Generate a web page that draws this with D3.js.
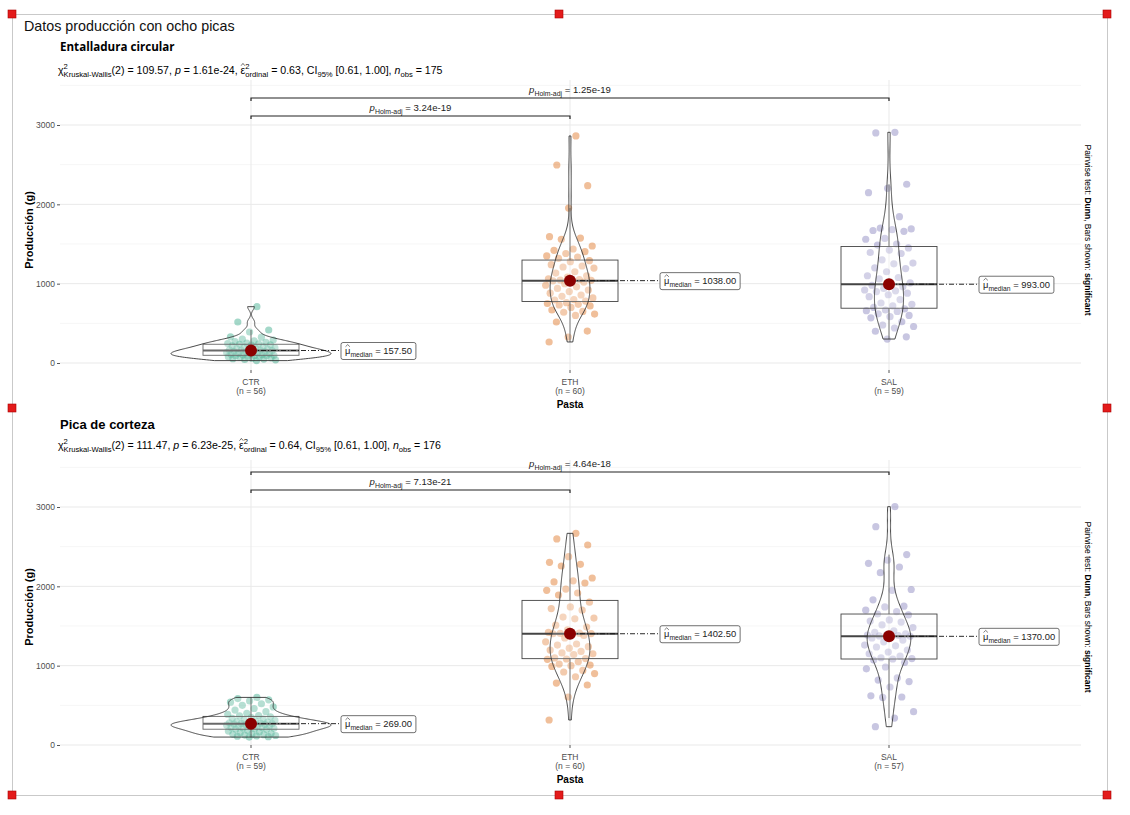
<!DOCTYPE html>
<html>
<head>
<meta charset="utf-8">
<script src="https://cdn.jsdelivr.net/npm/d3@7"></script>
<style>
  body { margin: 0; background: #fff; }
  svg { display: block; font-family: "Liberation Sans", Arial, sans-serif; }
  text { white-space: pre; }
</style>
</head>
<body>
<svg id="chart" width="1130" height="815"></svg>
<script>
// ---- data ----
const groups = ['CTR', 'ETH', 'SAL'];
const groupColors = ['#1B9E77', '#D95F02', '#7570B3'];
const yTicks = [0, 1000, 2000, 3000];

// Entalladura circular
const ctrEntalladura = [710, 517, 416, 391, 330, 325, 300, 290, 280, 270,
  260, 250, 245, 240, 235, 230, 225, 215, 205, 200,
  190, 185, 180, 175, 170, 165, 160, 158, 157, 150,
  145, 140, 135, 130, 125, 120, 118, 115, 110, 105,
  100, 98, 95, 92, 90, 85, 80, 75, 70, 65,
  60, 55, 50, 45, 40, 30];
const ethEntalladura = [2862, 2496, 2235, 1953, 1592, 1575, 1560, 1475, 1437, 1420,
  1403, 1380, 1350, 1336, 1320, 1290, 1277, 1240, 1223, 1210,
  1197, 1150, 1134, 1100, 1084, 1060, 1050, 1046, 1042, 1040,
  1036, 1020, 1000, 980, 960, 940, 920, 900, 880, 857,
  840, 820, 800, 794, 780, 760, 750, 740, 731, 720,
  700, 668, 650, 640, 617, 600, 517, 403, 328, 265];
const salEntalladura = [2908, 2900, 2253, 2202, 2147, 1844, 1700, 1690, 1680, 1670,
  1660, 1570, 1560, 1500, 1487, 1450, 1424, 1393, 1380, 1300,
  1260, 1250, 1200, 1190, 1150, 1100, 1078, 1060, 1010, 993,
  980, 960, 940, 920, 910, 900, 880, 860, 836, 800,
  756, 740, 720, 700, 681, 668, 660, 650, 620, 600,
  584, 570, 520, 479, 460, 441, 400, 330, 302];
const mediansEntalladura = [157.50, 1038.00, 993.00];
const nEntalladura = [56, 60, 59];
const statsEntalladura = { chi2: '109.57', p: '1.61e-24', eps: '0.63', ci: '[0.61, 1.00]', nobs: '175' };
const pairsEntalladura = [
  { from: 'CTR', to: 'ETH', p: '3.24e-19' },
  { from: 'CTR', to: 'SAL', p: '1.25e-19' }
];

// Pica de corteza
const ctrCorteza = [600, 585, 570, 555, 540, 520, 500, 480, 460, 440,
  420, 400, 385, 372, 366, 355, 345, 335, 325, 318,
  310, 302, 295, 288, 282, 278, 275, 272, 270, 269,
  265, 260, 255, 250, 245, 240, 235, 230, 225, 220,
  215, 210, 205, 200, 198, 185, 175, 165, 155, 145,
  140, 135, 130, 125, 120, 115, 110, 105, 100];
const ethCorteza = [2668, 2597, 2521, 2374, 2303, 2278, 2256, 2105, 2070, 2055,
  2042, 1966, 1950, 1916, 1891, 1800, 1740, 1720, 1700, 1613,
  1600, 1590, 1510, 1487, 1450, 1420, 1410, 1406, 1404, 1403,
  1402, 1380, 1350, 1300, 1273, 1260, 1240, 1220, 1197, 1180,
  1160, 1150, 1140, 1097, 1090, 1084, 1080, 1050, 1020, 1008,
  1000, 990, 940, 920, 900, 860, 780, 756, 605, 315];
const salCorteza = [3004, 2752, 2400, 2330, 2290, 2244, 2172, 1960, 1950, 1830,
  1750, 1740, 1700, 1680, 1651, 1639, 1576, 1563, 1550, 1513,
  1480, 1440, 1420, 1400, 1390, 1385, 1380, 1375, 1370,
  1365, 1350, 1323, 1300, 1260, 1250, 1235, 1197, 1172, 1150, 1120,
  1100, 1090, 1084, 1070, 1040, 983, 960, 845, 819, 800,
  731, 620, 605, 600, 420, 340, 231];
const mediansCorteza = [269.00, 1402.50, 1370.00];
const nCorteza = [59, 60, 57];
const statsCorteza = { chi2: '111.47', p: '6.23e-25', eps: '0.64', ci: '[0.61, 1.00]', nobs: '176' };
const pairsCorteza = [
  { from: 'CTR', to: 'ETH', p: '7.13e-21' },
  { from: 'CTR', to: 'SAL', p: '4.64e-18' }
];

// ---- layout ----
const panels = [
  { title: 'Entalladura circular', titleFont: '"Open Sans", sans-serif', titleSize: 11.6,
    series: [ctrEntalladura, ethEntalladura, salEntalladura],
    medians: mediansEntalladura, n: nEntalladura, stats: statsEntalladura, pairs: pairsEntalladura,
    titleY: 51, statsY: 74, zeroY: 363, topTickY: 125, panelTop: 80, panelBottom: 370,
    bracketY: [116, 98], stripY: 230 },
  { title: 'Pica de corteza', titleFont: '"Liberation Sans", Arial, sans-serif', titleSize: 13,
    series: [ctrCorteza, ethCorteza, salCorteza],
    medians: mediansCorteza, n: nCorteza, stats: statsCorteza, pairs: pairsCorteza,
    titleY: 429, statsY: 449, zeroY: 745, topTickY: 507, panelTop: 460, panelBottom: 745,
    bracketY: [490, 472], stripY: 607 }
];

const svg = d3.select('#chart');
const plotLeft = 60, plotRight = 1081;

const x = d3.scalePoint().domain(groups).range([251, 889]);

// lay out a run of text pieces (normal / italic / bold / hat / sub+sup) and return its width
function richText(parent, segs, size, weight) {
  const g = parent.append('g');
  let cx = 0;
  segs.forEach(s => {
    if (s.t !== undefined) {
      const t = g.append('text').attr('x', cx).attr('font-size', size)
        .attr('font-style', s.i ? 'italic' : null)
        .attr('font-weight', s.b ? 'bold' : weight || null)
        .text(s.t);
      const tw = t.node().getComputedTextLength();
      if (s.hat) {
        const hy = -size * 0.78;
        g.append('path')
          .attr('d', `M${cx + tw * 0.1},${hy}L${cx + tw * 0.5},${hy - size * 0.22}L${cx + tw * 0.9},${hy}`)
          .attr('fill', 'none').attr('stroke', 'currentColor').attr('stroke-width', 0.6);
      }
      cx += tw;
    } else {
      let w = 0;
      if (s.sup) {
        const t = g.append('text').attr('x', cx).attr('y', -size * 0.45)
          .attr('font-size', size * 0.72).text(s.sup);
        w = Math.max(w, t.node().getComputedTextLength());
      }
      if (s.sub) {
        const t = g.append('text').attr('x', cx).attr('y', size * 0.32)
          .attr('font-size', size * 0.72).text(s.sub);
        w = Math.max(w, t.node().getComputedTextLength());
      }
      cx += w;
    }
  });
  return { g, width: cx };
}

// gaussian KDE, bw.nrd0, trimmed to the data range
function density(values) {
  const v = values.slice().sort(d3.ascending);
  const n = v.length;
  const iqr = d3.quantileSorted(v, 0.75) - d3.quantileSorted(v, 0.25);
  const bw = 0.9 * Math.min(d3.deviation(v), iqr / 1.34) * Math.pow(n, -0.2);
  const lo = v[0], hi = v[n - 1];
  return d3.range(200).map(k => {
    const y = lo + (hi - lo) * k / 199;
    const d = d3.sum(v, vi => Math.exp(-0.5 * ((y - vi) / bw) ** 2)) / (n * bw * Math.sqrt(2 * Math.PI));
    return [y, d];
  });
}

// frame round the picture
svg.append('rect').attr('x', 12.5).attr('y', 14.5).attr('width', 1095).attr('height', 781)
  .attr('fill', 'none').attr('stroke', '#c9c9c9').attr('stroke-width', 1);

svg.append('text').attr('x', 24).attr('y', 31).attr('font-size', 14.3).attr('fill', '#111')
  .text('Datos producción con ocho picas');

panels.forEach(p => {
  const y = d3.scaleLinear().domain([0, 3000]).range([p.zeroY, p.topTickY]);
  const g = svg.append('g');

  // grid
  const minor = d3.range(500, 4000, 1000).filter(v => y(v) >= p.panelTop);
  g.selectAll('.minor').data(minor).enter().append('line')
    .attr('x1', plotLeft).attr('x2', plotRight).attr('y1', d => y(d)).attr('y2', d => y(d))
    .attr('stroke', '#f2f2f2').attr('stroke-width', 0.7);
  g.selectAll('.major').data(yTicks).enter().append('line')
    .attr('x1', plotLeft).attr('x2', plotRight).attr('y1', d => y(d)).attr('y2', d => y(d))
    .attr('stroke', '#e9e9e9').attr('stroke-width', 1);
  g.selectAll('.vgrid').data(groups).enter().append('line')
    .attr('x1', d => x(d)).attr('x2', d => x(d)).attr('y1', p.panelTop).attr('y2', p.panelBottom)
    .attr('stroke', '#e9e9e9').attr('stroke-width', 1);

  // y axis
  const yAxis = g.append('g').attr('transform', `translate(${plotLeft},0)`)
    .call(d3.axisLeft(y).tickValues(yTicks).tickFormat(d3.format('d')).tickSize(3).tickPadding(2));
  yAxis.select('.domain').remove();
  yAxis.selectAll('line').attr('stroke', '#555');
  yAxis.selectAll('text').attr('font-size', 8.5).attr('fill', '#4d4d4d')
    .attr('font-family', '"Liberation Sans", Arial, sans-serif');

  g.append('text').attr('transform', `translate(33,${p.stripY}) rotate(-90)`)
    .attr('text-anchor', 'middle').attr('font-size', 11).attr('font-weight', 'bold')
    .text('Producción (g)');

  // x axis
  groups.forEach((grp, i) => {
    g.append('line').attr('x1', x(grp)).attr('x2', x(grp))
      .attr('y1', p.panelBottom).attr('y2', p.panelBottom + 3).attr('stroke', '#555');
    g.append('text').attr('x', x(grp)).attr('y', p.panelBottom + 14.5).attr('text-anchor', 'middle')
      .attr('font-size', 8.5).attr('fill', '#4d4d4d').text(grp);
    g.append('text').attr('x', x(grp)).attr('y', p.panelBottom + 24).attr('text-anchor', 'middle')
      .attr('font-size', 8.5).attr('fill', '#4d4d4d').text(`(n = ${p.n[i]})`);
  });
  g.append('text').attr('x', 570).attr('y', p.panelBottom + 37.5).attr('text-anchor', 'middle')
    .attr('font-size', 10).attr('font-weight', 'bold').text('Pasta');

  // titles
  g.append('text').attr('x', 60).attr('y', p.titleY).attr('font-size', p.titleSize)
    .attr('font-weight', 'bold').attr('font-family', p.titleFont).text(p.title);
  const st = p.stats;
  const statLine = richText(g, [
    { t: 'χ' }, { sup: '2', sub: 'Kruskal-Wallis' }, { t: `(2) = ${st.chi2}, ` },
    { t: 'p', i: true }, { t: ` = ${st.p}, ` },
    { t: 'ε', hat: true }, { sup: '2', sub: 'ordinal' }, { t: ` = ${st.eps}, CI` }, { sub: '95%' },
    { t: ` ${st.ci}, ` }, { t: 'n', i: true }, { sub: 'obs' }, { t: ` = ${st.nobs}` }
  ], 10.6);
  statLine.g.attr('transform', `translate(58,${p.statsY})`).attr('color', '#111');

  // points (jittered)
  p.series.forEach((vals, i) => {
    g.append('g').selectAll('circle').data(vals).enter().append('circle')
      .attr('cx', (d, k) => x(groups[i]) + (((k + 1) * 0.6180339) % 1 - 0.5) * 50)
      .attr('cy', d => y(d))
      .attr('r', 3.6)
      .attr('fill', groupColors[i]).attr('fill-opacity', 0.4);
  });

  // boxplots
  const boxHalf = 48;
  p.series.forEach((vals, i) => {
    const v = vals.slice().sort(d3.ascending);
    const q1 = d3.quantileSorted(v, 0.25), q3 = d3.quantileSorted(v, 0.75);
    const med = d3.quantileSorted(v, 0.5);
    const iqr = q3 - q1;
    const lo = d3.min(v.filter(d => d >= q1 - 1.5 * iqr));
    const hi = d3.max(v.filter(d => d <= q3 + 1.5 * iqr));
    const cx = x(groups[i]);
    const bg = g.append('g').attr('stroke', '#444').attr('stroke-width', 0.9);
    bg.append('line').attr('x1', cx).attr('x2', cx).attr('y1', y(q3)).attr('y2', y(hi));
    bg.append('line').attr('x1', cx).attr('x2', cx).attr('y1', y(q1)).attr('y2', y(lo));
    bg.append('rect').attr('x', cx - boxHalf).attr('y', y(q3)).attr('width', boxHalf * 2)
      .attr('height', y(q1) - y(q3)).attr('fill', '#fff').attr('fill-opacity', 0.2);
    bg.append('line').attr('x1', cx - boxHalf).attr('x2', cx + boxHalf)
      .attr('y1', y(med)).attr('y2', y(med)).attr('stroke-width', 2);
  });

  // violins, scale = "area": one width scale for the whole panel
  const dens = p.series.map(density);
  const maxD = d3.max(dens, d => d3.max(d, e => e[1]));
  const w = d3.scaleLinear().domain([0, maxD]).range([0, 80]);
  dens.forEach((dd, i) => {
    const cx = x(groups[i]);
    const area = d3.area().y(d => y(d[0])).x0(d => cx - w(d[1])).x1(d => cx + w(d[1]));
    g.append('path').attr('d', area(dd))
      .attr('fill', '#fff').attr('fill-opacity', 0.2)
      .attr('stroke', '#333').attr('stroke-width', 0.9);
  });

  // median dot and label
  p.medians.forEach((m, i) => {
    const cx = x(groups[i]);
    const lx = cx + 90;
    g.append('line').attr('x1', cx).attr('x2', lx).attr('y1', y(m)).attr('y2', y(m))
      .attr('stroke', '#111').attr('stroke-width', 0.9).attr('stroke-dasharray', '5,2,1,2');
    g.append('circle').attr('cx', cx).attr('cy', y(m)).attr('r', 6).attr('fill', '#8B0000');
    const lab = g.append('g').attr('color', '#222');
    const box = lab.append('rect');
    const rt = richText(lab, [{ t: 'μ', hat: true }, { sub: 'median' }, { t: ` = ${d3.format('.2f')(m)}` }], 9.4);
    rt.g.attr('transform', 'translate(4,3.5)').attr('fill', '#222');
    box.attr('x', 0).attr('y', -8).attr('width', rt.width + 8).attr('height', 17).attr('rx', 2)
      .attr('fill', '#fff').attr('stroke', '#333').attr('stroke-width', 0.7);
    lab.attr('transform', `translate(${lx},${y(m)})`);
  });

  // pairwise brackets
  p.pairs.forEach((pr, k) => {
    const by = p.bracketY[k];
    const x1 = x(pr.from), x2 = x(pr.to);
    g.append('path')
      .attr('d', `M${x1},${by + 3}V${by}H${x2}V${by + 3}`)
      .attr('fill', 'none').attr('stroke', '#222').attr('stroke-width', 1.2);
    const rt = richText(g, [{ t: 'p', i: true }, { sub: 'Holm-adj' }, { t: ` = ${pr.p}` }], 9.6);
    rt.g.attr('transform', `translate(${(x1 + x2) / 2 - rt.width / 2},${by - 5})`).attr('fill', '#222');
  });

  // right strip caption
  const cap = richText(svg, [{ t: 'Pairwise test: ' }, { t: 'Dunn', b: true }, { t: ', Bars shown: ' },
    { t: 'significant', b: true }], 8.5);
  cap.g.attr('transform', `translate(1085,${p.stripY}) rotate(90) translate(${-cap.width / 2},0)`);
});

// selection handles
const handles = [[12, 14], [559, 14], [1107, 14], [12, 408], [1107, 408], [12, 795], [559, 795], [1107, 795]];
svg.selectAll('.handle').data(handles).enter().append('rect')
  .attr('x', d => d[0] - 4).attr('y', d => d[1] - 4).attr('width', 8).attr('height', 8)
  .attr('fill', '#e31b1b').attr('stroke', '#a00').attr('stroke-width', 0.6);
</script>
</body>
</html>
